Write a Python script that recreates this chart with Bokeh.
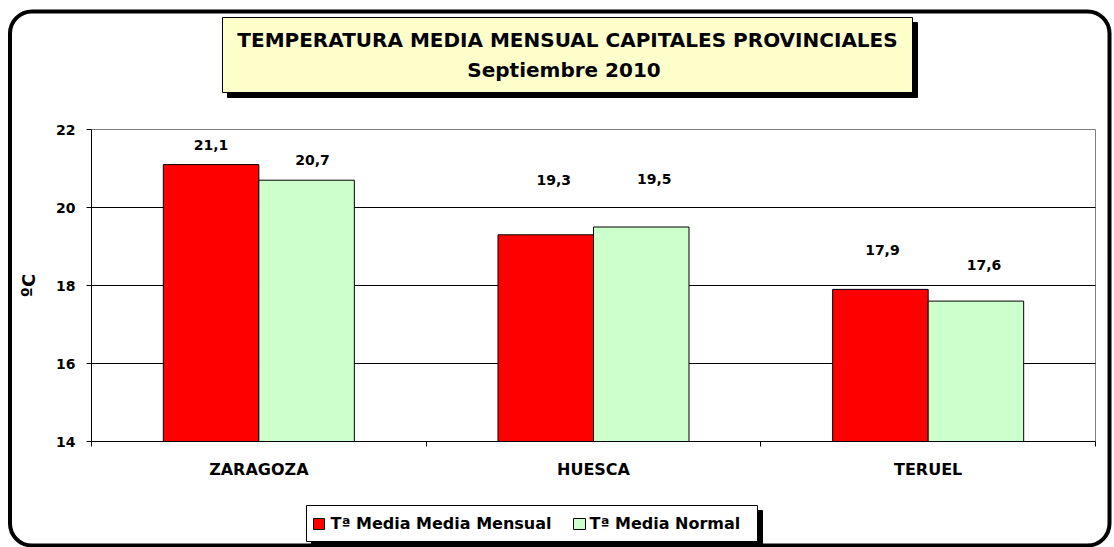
from bokeh.plotting import figure
from bokeh.models import (BoxAnnotation, Label, FixedTicker, Range1d, ColumnDataSource,
                          CustomJSTickFormatter, LinearAxis)
from bokeh.core.properties import value
from bokeh.embed import file_html
from bokeh.resources import INLINE

# ---------------- data ----------------
cities = ["ZARAGOZA", "HUESCA", "TERUEL"]
media_mensual = [21.1, 19.3, 17.9]
media_normal = [20.7, 19.5, 17.6]
labels_mensual = ["21,1", "19,3", "17,9"]
labels_normal = ["20,7", "19,5", "17,6"]
y_ticks = [14, 16, 18, 20, 22]
grid_ticks = [16, 18, 20]
title_lines = ["TEMPERATURA MEDIA MENSUAL CAPITALES PROVINCIALES", "Septiembre  2010"]
legend_names = ["Tª Media Media Mensual", "Tª Media Normal"]
y_label = "ºC"

# ---------------- styles / layout ----------------
FONT = "DejaVu Sans"
RED = "#FF0000"
GREEN = "#CCFFCC"
BAR_W = 0.2854
W, H = 1114, 547
# plot area in canvas pixels
PL, PR, PT, PB = 91, 1095, 129, 441
Y0, Y1 = 14, 22
X0, X1 = 0, 3
sx = (PR - PL) / (X1 - X0)
sy = (PB - PT) / (Y1 - Y0)

# pixel offsets of the data labels (as placed in the original)
off_x_mensual = [0, 8, 2]
off_y_mensual = [-20, -55, -39]
off_x_normal = [6, 13, 8]
off_y_normal = [-20, -48, -36]

p = figure(width=W, height=H, output_backend="svg", toolbar_location=None,
           x_range=Range1d(X0 - PL / sx, X1 + (W - PR) / sx),
           y_range=Range1d(Y0 - (H - PB) / sy, Y1 + PT / sy),
           x_axis_location=None, y_axis_location=None,
           min_border=0, min_border_left=0, min_border_right=0, min_border_top=0, min_border_bottom=0,
           background_fill_color="white", border_fill_color="white")
p.outline_line_color = None
p.grid.visible = False

centers = [i + 0.5 for i in range(len(cities))]

# plot-area outline (grey) and gridlines
p.quad(left=[X0], right=[X1], bottom=[Y0], top=[Y1], fill_alpha=0, line_color="#808080", line_width=1)
p.segment(x0=[X0] * len(grid_ticks), x1=[X1] * len(grid_ticks), y0=grid_ticks, y1=grid_ticks,
          line_color="black", line_width=1)

src = ColumnDataSource(dict(
    xm=[c - BAR_W / 2 for c in centers], xn=[c + BAR_W / 2 for c in centers],
    m=media_mensual, n=media_normal, lm=labels_mensual, ln=labels_normal,
    oxm=off_x_mensual, oym=off_y_mensual, oxn=off_x_normal, oyn=off_y_normal))

p.vbar(x="xm", top="m", bottom=Y0, width=BAR_W, source=src, fill_color=RED, line_color="black", line_width=1)
p.vbar(x="xn", top="n", bottom=Y0, width=BAR_W, source=src, fill_color=GREEN, line_color="black", line_width=1)

p.text(x="xm", y="m", text="lm", x_offset="oxm", y_offset="oym", source=src,
       text_font=value(FONT), text_font_style="bold", text_font_size="14px",
       text_align="center", text_baseline="middle", text_color="black")
p.text(x="xn", y="n", text="ln", x_offset="oxn", y_offset="oyn", source=src,
       text_font=value(FONT), text_font_style="bold", text_font_size="14px",
       text_align="center", text_baseline="middle", text_color="black")

# axes (drawn at fixed locations inside the full-canvas frame)
xa = LinearAxis(fixed_location=Y0, bounds=(X0, X1))
xa.ticker = FixedTicker(ticks=centers, minor_ticks=[0, 1, 2, 3])
xa.formatter = CustomJSTickFormatter(args=dict(names=cities), code="return names[Math.floor(tick)]")
xa.major_tick_out = 0
xa.major_tick_in = 0
xa.minor_tick_out = 5
xa.minor_tick_in = 0
xa.minor_tick_line_color = "black"
xa.axis_line_color = "black"
xa.major_label_text_font = FONT
xa.major_label_text_font_style = "bold"
xa.major_label_text_font_size = "16px"
xa.major_label_text_color = "black"
xa.major_label_standoff = 13
p.add_layout(xa, "below")

ya = LinearAxis(fixed_location=X0, bounds=(Y0, Y1))
ya.ticker = FixedTicker(ticks=y_ticks, minor_ticks=[])
ya.major_tick_out = 5
ya.major_tick_in = 0
ya.major_tick_line_color = "black"
ya.axis_line_color = "black"
ya.major_label_text_font = FONT
ya.major_label_text_font_style = "bold"
ya.major_label_text_font_size = "14px"
ya.major_label_text_color = "black"
ya.major_label_standoff = 11
ya.axis_label = y_label
ya.axis_label_text_font = FONT
ya.axis_label_text_font_style = "bold"
ya.axis_label_text_font_size = "18px"
ya.axis_label_text_color = "black"
ya.axis_label_standoff = 14
p.add_layout(ya, "left")

# ---------------- decorations (screen units = canvas pixels, y up) ----------------
def box(l, r, t, b, fill, line="black", lw=1, radius=0):
    bx = BoxAnnotation(left=l, right=r, top=H - t, bottom=H - b,
                       left_units="screen", right_units="screen", top_units="screen", bottom_units="screen",
                       fill_color=fill if fill else "white", fill_alpha=1 if fill else 0,
                       line_color=line, line_alpha=1, line_width=lw, border_radius=radius, editable=False)
    p.add_layout(bx)
    return bx

# outer rounded frame
box(9.5, 1109, 11, 545, None, "black", 4, 22)

# title box with shadow
box(227, 917, 22, 97, "black", "black", 1)
box(222, 912, 17, 92, "#FFFFCC", "black", 1)
for t, yy in zip(title_lines, [39, 69]):
    p.add_layout(Label(x=567, y=H - yy, x_units="screen", y_units="screen", text=t,
                       text_font=FONT, text_font_style="bold", text_font_size="20px",
                       text_align="center", text_baseline="middle", text_color="black"))

# legend with shadow
box(311, 762, 510, 546, "black", "black", 1)
box(306, 757, 505, 541, "white", "black", 1)
box(313, 324, 518, 529, RED, "black", 1)
box(573, 585, 518, 529, GREEN, "black", 1)
for t, xx in zip(legend_names, [330, 589]):
    p.add_layout(Label(x=xx, y=H - 523, x_units="screen", y_units="screen", text=t,
                       text_font=FONT, text_font_style="bold", text_font_size="16px",
                       text_align="left", text_baseline="middle", text_color="black"))

open("out.html", "w").write(file_html(p, INLINE))
